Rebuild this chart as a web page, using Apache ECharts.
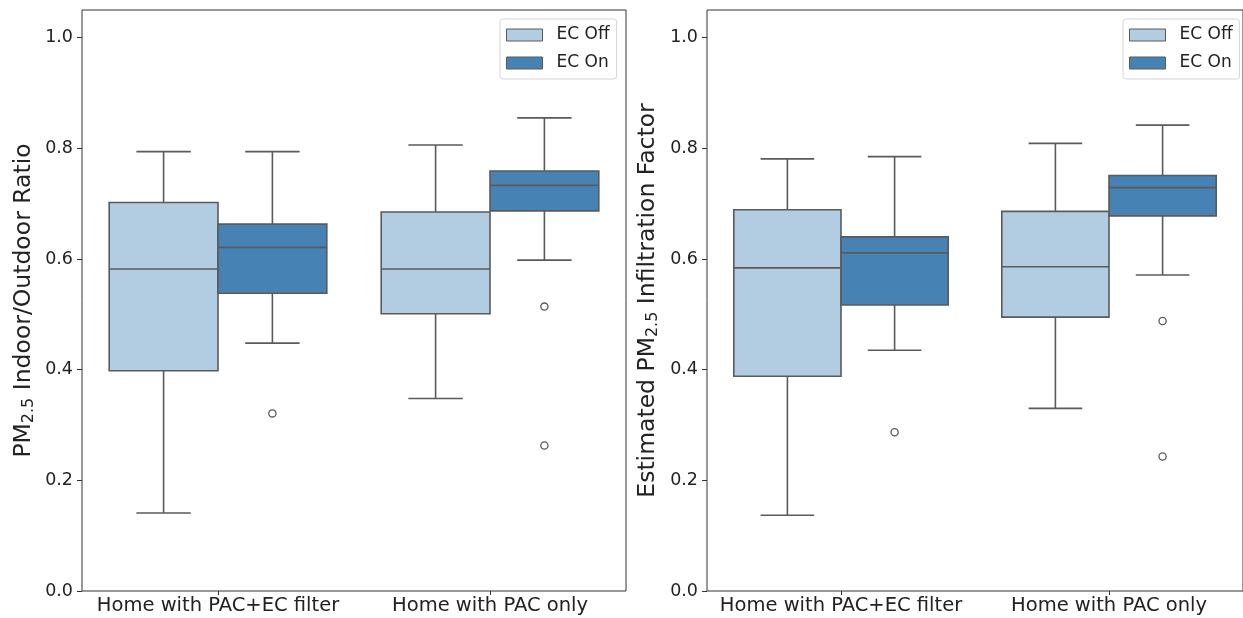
<!DOCTYPE html>
<html>
<head>
<meta charset="utf-8">
<script src="https://cdn.jsdelivr.net/npm/echarts@6/dist/echarts.min.js"></script>
<style>
  html, body { margin: 0; padding: 0; background: #fff; }
  #chart { width: 1243px; height: 618px; }
</style>
</head>
<body>
<div id="chart"></div>
<script>
// Categories on the x axis of both panels
const categories = ['Home with PAC+EC filter', 'Home with PAC only'];
const hueNames = ['EC Off', 'EC On'];
const yTicks = [0, 0.2, 0.4, 0.6, 0.8, 1.0];

// Box statistics per category: [lower whisker, Q1, median, Q3, upper whisker]
const ratioOff = [[0.141, 0.398, 0.582, 0.702, 0.794], [0.348, 0.501, 0.582, 0.685, 0.806]];
const ratioOn = [[0.448, 0.538, 0.621, 0.663, 0.794], [0.598, 0.687, 0.733, 0.759, 0.855]];
const ratioOutliersOn = [[0, 0.321], [1, 0.514], [1, 0.263]];

const infilOff = [[0.137, 0.388, 0.584, 0.689, 0.781], [0.330, 0.495, 0.586, 0.686, 0.809]];
const infilOn = [[0.435, 0.517, 0.611, 0.640, 0.785], [0.571, 0.678, 0.729, 0.751, 0.842]];
const infilOutliersOn = [[0, 0.287], [1, 0.488], [1, 0.243]];

const COLORS = ['#b2cde1', '#4683b4'];
const EDGE = '#5a5a5a';
const TEXT = '#222';
const FONT = 'DejaVu Sans';

// Hue offset (fraction of category band) for the two side-by-side boxes
const HUE_OFFSET = [-0.2, 0.2];

function boxRenderer(hue) {
  return function (params, api) {
    const cat = api.value(0);
    const band = api.size([1, 0])[0];
    const boxW = band * 0.4;
    const cx = api.coord([cat, 0])[0] + HUE_OFFSET[hue] * band;
    const yLow = api.coord([cat, api.value(1)])[1];
    const yQ1 = api.coord([cat, api.value(2)])[1];
    const yMed = api.coord([cat, api.value(3)])[1];
    const yQ3 = api.coord([cat, api.value(4)])[1];
    const yHigh = api.coord([cat, api.value(5)])[1];
    const capHalf = boxW / 4;
    const line = { stroke: EDGE, lineWidth: 1.6 };
    return {
      type: 'group',
      children: [
        { type: 'line', shape: { x1: cx, y1: yQ3, x2: cx, y2: yHigh }, style: line },
        { type: 'line', shape: { x1: cx, y1: yQ1, x2: cx, y2: yLow }, style: line },
        { type: 'line', shape: { x1: cx - capHalf, y1: yHigh, x2: cx + capHalf, y2: yHigh }, style: line },
        { type: 'line', shape: { x1: cx - capHalf, y1: yLow, x2: cx + capHalf, y2: yLow }, style: line },
        {
          type: 'rect',
          shape: { x: cx - boxW / 2, y: yQ3, width: boxW, height: yQ1 - yQ3 },
          style: { fill: COLORS[hue], stroke: EDGE, lineWidth: 1.6 }
        },
        { type: 'line', shape: { x1: cx - boxW / 2, y1: yMed, x2: cx + boxW / 2, y2: yMed }, style: line }
      ]
    };
  };
}

function outlierRenderer(hue) {
  return function (params, api) {
    const cat = api.value(0);
    const band = api.size([1, 0])[0];
    const cx = api.coord([cat, 0])[0] + HUE_OFFSET[hue] * band;
    const cy = api.coord([cat, api.value(1)])[1];
    return {
      type: 'circle',
      shape: { cx: cx, cy: cy, r: 3.6 },
      style: { fill: '#fff', stroke: EDGE, lineWidth: 1.3 }
    };
  };
}

function boxData(stats) {
  return stats.map((s, i) => [i].concat(s));
}

const titleRich = {
  n: { fontSize: 23.5, fontFamily: FONT, color: TEXT, verticalAlign: 'middle' },
  s: { fontSize: 16, fontFamily: FONT, color: TEXT, verticalAlign: 'middle', padding: [10, 0, 0, 0] }
};

function makeGrid(left, width) {
  return {
    left: left, top: 10, width: width, height: 581,
    show: true, borderColor: '#333', borderWidth: 1, backgroundColor: 'transparent'
  };
}

function makeXAxis(gridIndex) {
  return {
    type: 'category', gridIndex: gridIndex, data: categories, boundaryGap: true,
    axisLine: { show: false },
    axisTick: { show: true, alignWithLabel: true, interval: 0, length: 4, lineStyle: { color: '#333' } },
    axisLabel: { interval: 0, fontSize: 19.5, fontFamily: FONT, color: TEXT, margin: 5 },
    splitLine: { show: false }
  };
}

function makeYAxis(gridIndex, name, nameGap) {
  return {
    type: 'value', gridIndex: gridIndex, min: 0, max: 1.05, interval: 0.2,
    name: name, nameLocation: 'middle', nameRotate: 90, nameGap: nameGap,
    nameTextStyle: { rich: titleRich, fontFamily: FONT, fontSize: 23.5, color: TEXT },
    axisLine: { show: false },
    axisTick: { show: true, length: 5, customValues: yTicks, lineStyle: { color: '#333' } },
    axisLabel: {
      fontSize: 17.5, fontFamily: FONT, color: TEXT, margin: 9,
      customValues: yTicks,
      formatter: v => v.toFixed(1)
    },
    splitLine: { show: false }
  };
}

function makeLegend(left) {
  return {
    orient: 'vertical', left: left, top: 19,
    padding: [7, 7, 7, 6],
    itemWidth: 36, itemHeight: 12, itemGap: 10,
    backgroundColor: 'rgba(255,255,255,0.85)',
    borderColor: '#d6d6d6', borderWidth: 1, borderRadius: 3,
    textStyle: { fontSize: 17, fontFamily: FONT, color: TEXT, lineHeight: 18, padding: [0, 0, 0, 9] },
    selectedMode: false,
    data: hueNames.map((n, i) => ({
      name: n, icon: 'rect',
      itemStyle: { color: COLORS[i], borderColor: EDGE, borderWidth: 1 }
    }))
  };
}

function panelSeries(axisIndex, offStats, onStats, onOutliers) {
  return [
    {
      name: hueNames[0], type: 'custom', xAxisIndex: axisIndex, yAxisIndex: axisIndex,
      renderItem: boxRenderer(0), data: boxData(offStats),
      encode: { x: 0, y: [1, 2, 3, 4, 5] }, itemStyle: { color: COLORS[0] }, silent: true
    },
    {
      name: hueNames[1], type: 'custom', xAxisIndex: axisIndex, yAxisIndex: axisIndex,
      renderItem: boxRenderer(1), data: boxData(onStats),
      encode: { x: 0, y: [1, 2, 3, 4, 5] }, itemStyle: { color: COLORS[1] }, silent: true
    },
    {
      name: hueNames[1], type: 'custom', xAxisIndex: axisIndex, yAxisIndex: axisIndex,
      renderItem: outlierRenderer(1), data: onOutliers,
      encode: { x: 0, y: 1 }, itemStyle: { color: COLORS[1] }, silent: true
    }
  ];
}

const chart = echarts.init(document.getElementById('chart'), null, { renderer: 'canvas' });
chart.setOption({
  animation: false,
  backgroundColor: '#fff',
  textStyle: { fontFamily: FONT },
  grid: [makeGrid(82, 544), makeGrid(707, 536)],
  xAxis: [makeXAxis(0), makeXAxis(1)],
  yAxis: [
    makeYAxis(0, '{n|PM}{s|2.5}{n| Indoor/Outdoor Ratio}', 45),
    makeYAxis(1, '{n|Estimated PM}{s|2.5}{n| Infiltration Factor}', 46)
  ],
  legend: [makeLegend(500), makeLegend(1123)],
  series: panelSeries(0, ratioOff, ratioOn, ratioOutliersOn)
    .concat(panelSeries(1, infilOff, infilOn, infilOutliersOn))
});
</script>
</body>
</html>
